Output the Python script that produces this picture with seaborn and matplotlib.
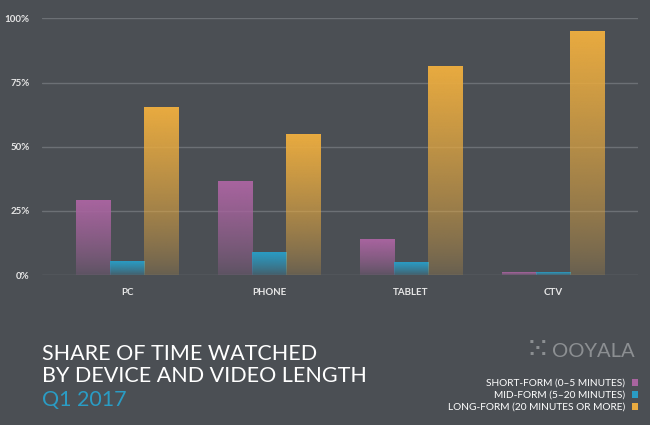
import numpy as np
import pandas as pd
import matplotlib
matplotlib.use("Agg")
import matplotlib.pyplot as plt
import matplotlib.patches as mpatches
import seaborn as sns

devices = ["PC", "PHONE", "TABLET", "CTV"]
forms = ["SHORT-FORM (0\u20135 MINUTES)", "MID-FORM (5\u201320 MINUTES)",
         "LONG-FORM (20 MINUTES OR MORE)"]
short_form = [29.2, 36.4, 14.0, 0.8]
mid_form = [5.4, 8.8, 4.9, 0.8]
long_form = [65.3, 54.8, 81.4, 94.9]
colors = ["#a8649f", "#2a9cc4", "#e9ab40"]
ytick_vals = [0, 25, 50, 75, 100]

bg = "#4b4f54"
df = pd.DataFrame({
    "device": devices * 3,
    "form": [forms[0]] * 4 + [forms[1]] * 4 + [forms[2]] * 4,
    "share": short_form + mid_form + long_form,
})

sns.set_style("dark", {"axes.facecolor": bg, "figure.facecolor": bg})
plt.rcParams["font.family"] = ["Lato", "DejaVu Sans"]

fig = plt.figure(figsize=(6.5, 4.25), dpi=100)
ax = fig.add_axes([0.0646, 0.3529, 0.9169, 0.6036])

sns.barplot(data=df, x="device", y="share", hue="form", order=devices,
            hue_order=forms, palette=colors, width=0.72, legend=False,
            linewidth=0, saturation=1, ax=ax)

# gradient fill: solid at the top, fading into the background at the base
n = 100
for patch in list(ax.patches):
    x, y = patch.get_x(), patch.get_y()
    w, h = patch.get_width(), patch.get_height()
    if h <= 0:
        continue
    rgba = np.array(patch.get_facecolor())
    t = np.linspace(0, 1, n)
    alpha = 0.18 + 0.82 * t ** 0.8
    img = np.zeros((n, 1, 4))
    img[:, 0, :3] = rgba[:3]
    img[:, 0, 3] = alpha
    ax.imshow(img, extent=[x, x + w, y, y + h], origin="lower",
              aspect="auto", zorder=2, interpolation="bilinear")
    patch.set_facecolor("none")

ax.set_xlim(-0.6, 3.6)
ax.set_ylim(0, 100)
ax.set_yticks(ytick_vals)
ax.set_yticklabels([f"{v}%" for v in ytick_vals])
for v in ytick_vals:
    ax.axhline(v, color="#6c7075", lw=1.0, zorder=1)
ax.grid(False)
for s in ax.spines.values():
    s.set_visible(False)
ax.set_xlabel("")
ax.set_ylabel("")
ax.tick_params(axis="both", length=0, colors="#e6e6e6", labelsize=7)
ax.tick_params(axis="x", pad=9)
ax.tick_params(axis="y", pad=9)
for lab in ax.get_xticklabels() + ax.get_yticklabels():
    lab.set_fontweight("bold")

# title block
title_kw = dict(fontsize=15.5, fontweight="normal", va="baseline", ha="left")
fig.text(0.0646, 0.1529, "SHARE OF TIME WATCHED", color="white", **title_kw)
fig.text(0.0646, 0.1019, "BY DEVICE AND VIDEO LENGTH", color="white", **title_kw)
fig.text(0.0646, 0.0447, "Q1 2017", color="#2a9cc4", **title_kw)

# logo
fig.text(0.8488, 0.1593, "OOYALA", color="#8c8f92", fontsize=14.5,
         va="baseline", ha="left")
fig.text(0.846, 0.176, "\u2059", color="#8c8f92", fontsize=22,
         family="DejaVu Sans", va="center", ha="right")

# legend
leg_y = [0.0995, 0.0713, 0.0431]
for label, col, yy in zip(forms, colors, leg_y):
    fig.text(0.9615, yy, label, color="white", fontsize=7.3,
             ha="right", va="center")
    fig.add_artist(mpatches.Rectangle((0.9718, yy - 0.0078), 0.0102, 0.0155,
                                      transform=fig.transFigure,
                                      facecolor=col, edgecolor="none"))

fig.savefig("out.png", dpi=100, facecolor=bg)
